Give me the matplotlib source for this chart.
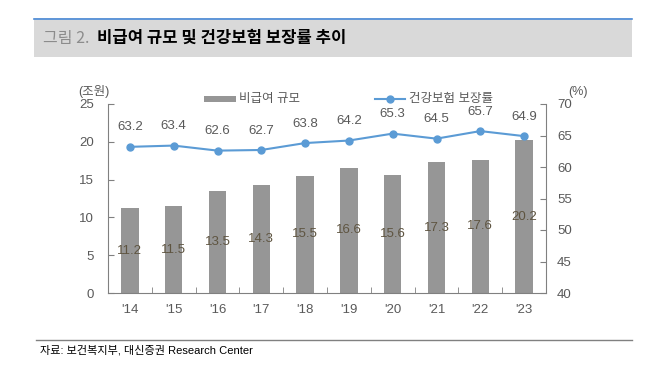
import matplotlib.pyplot as plt
import matplotlib.patches as mpatches
import matplotlib.lines as mlines
import numpy as np

plt.rcParams['font.family'] = ['Liberation Sans', 'Noto Sans CJK KR', 'DejaVu Sans']

years = ["'14", "'15", "'16", "'17", "'18", "'19", "'20", "'21", "'22", "'23"]
noncovered = [11.2, 11.5, 13.5, 14.3, 15.5, 16.6, 15.6, 17.3, 17.6, 20.2]   # 조원
coverage = [63.2, 63.4, 62.6, 62.7, 63.8, 64.2, 65.3, 64.5, 65.7, 64.9]      # %

W, H = 652, 366
fig = plt.figure(figsize=(W / 100, H / 100), dpi=100)

def fx(px):
    return px / W

def fy(py):
    return 1 - py / H

# title bar
fig.patches.append(mpatches.Rectangle((fx(34), fy(57)), fx(632) - fx(34), fy(18) - fy(57),
                                      transform=fig.transFigure, facecolor='#d9d9d9',
                                      edgecolor='none', zorder=0))
fig.lines.append(mlines.Line2D([fx(34), fx(632)], [fy(18.5), fy(18.5)],
                               transform=fig.transFigure, color='#4a8ad8', lw=1.2))
fig.text(fx(43), fy(38), '그림 2.', fontsize=11.5, color='#8c8c8c', va='center',
         family=['Noto Sans CJK KR', 'DejaVu Sans'])
fig.text(fx(97), fy(38), '비급여 규모 및 건강보험 보장률 추이', fontsize=12, color='black',
         va='center', fontweight='bold', family=['Noto Sans CJK KR', 'DejaVu Sans'])

# footer
fig.lines.append(mlines.Line2D([fx(36), fx(632)], [fy(340), fy(340)],
                               transform=fig.transFigure, color='#808080', lw=1))
fig.text(fx(40), fy(350), '자료: 보건복지부, 대신증권 Research Center', fontsize=8,
         color='black', va='center')

# main axes
ax = fig.add_axes([fx(108), fy(293), fx(546) - fx(108), fy(104) - fy(293)])
x = np.arange(len(years))
ax.bar(x, noncovered, width=0.4, color='#969696', zorder=2)
ax.set_xlim(-0.5, len(years) - 0.5)
ax.set_ylim(0, 25)
ax.set_yticks(np.arange(0, 26, 5))
ax.set_xticks(x)
ax.set_xticklabels(years)
ax.set_xticks(np.arange(-0.5, len(years), 1), minor=True)
ax.tick_params(axis='x', which='major', length=0, pad=8, labelsize=9.5, colors='#595959')
ax.tick_params(axis='x', which='minor', length=4, direction='in', color='#808080')
ax.tick_params(axis='y', length=4, direction='in', labelsize=9.5, colors='#595959',
               color='#808080', pad=10)
for s in ['top', 'right']:
    ax.spines[s].set_visible(False)
for s in ['left', 'bottom']:
    ax.spines[s].set_color('#808080')

for xi, v in zip(x, noncovered):
    ax.text(xi, v / 2, f'{v:.1f}', ha='center', va='center', fontsize=9.5, color='#5e5440', zorder=3)

ax2 = ax.twinx()
ax2.plot(x, coverage, color='#5b9bd5', lw=1.5, marker='o', markersize=5, zorder=3)
ax2.set_ylim(40, 70)
ax2.set_yticks(np.arange(40, 71, 5))
ax2.tick_params(axis='y', length=4, direction='in', labelsize=9.5, colors='#595959',
                color='#808080', pad=8)
for s in ['top', 'left', 'bottom']:
    ax2.spines[s].set_visible(False)
ax2.spines['right'].set_color('#808080')
for xi, v in zip(x, coverage):
    ax2.annotate(f'{v:.1f}', (xi, v), xytext=(0, 14), textcoords='offset points',
                 ha='center', va='center', fontsize=9.5, color='#595959')

# units
fig.text(fx(94), fy(92), '(조원)', fontsize=9, color='#595959', ha='center', va='center')
fig.text(fx(578), fy(92), '(%)', fontsize=9, color='#595959', ha='center', va='center')

# legend
fig.patches.append(mpatches.Rectangle((fx(204), fy(102)), fx(236) - fx(204), fy(96) - fy(102),
                                      transform=fig.transFigure, facecolor='#969696',
                                      edgecolor='none'))
fig.text(fx(239), fy(99), '비급여 규모', fontsize=9, color='#595959', va='center')
fig.lines.append(mlines.Line2D([fx(375), fx(405)], [fy(99), fy(99)], transform=fig.transFigure,
                               color='#5b9bd5', lw=1.5))
fig.lines.append(mlines.Line2D([fx(390)], [fy(99)], transform=fig.transFigure,
                               color='#5b9bd5', marker='o', markersize=5))
fig.text(fx(409), fy(99), '건강보험 보장률', fontsize=9, color='#595959', va='center')

fig.savefig('out.png', dpi=100)
